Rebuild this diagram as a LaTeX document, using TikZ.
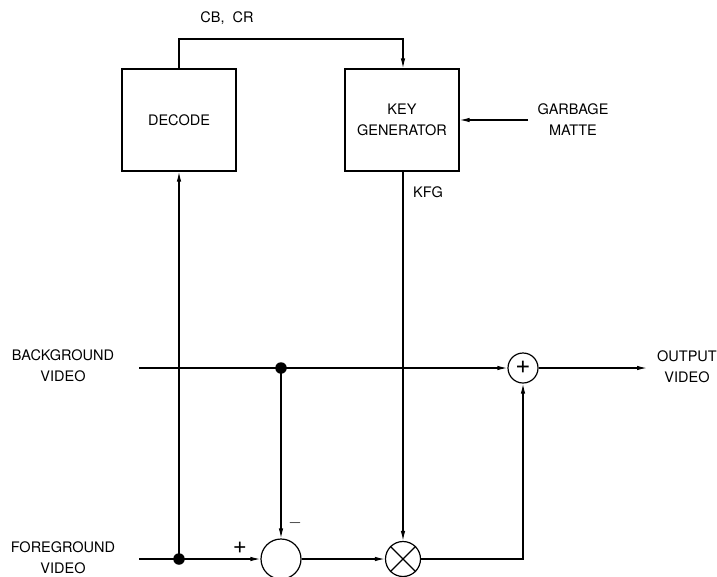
\documentclass[tikz,border=0pt]{standalone}
\usepackage{fontspec}
\setmainfont{TeX Gyre Heros}
\usetikzlibrary{arrows.meta}
\begin{document}
\begin{tikzpicture}[x=1pt,y=-1pt,
  line width=1.2pt,
  every node/.style={font=\fontsize{14.5}{21}\selectfont},
  blk/.style={draw,minimum width=114pt,minimum height=102pt,inner sep=0pt,align=center},
  lbl/.style={align=center,inner sep=0pt},
  arr/.style={-{Latex[length=10pt,width=4.5pt]}},
  dot/.style={circle,fill,inner sep=0pt,minimum size=11.5pt}]
\useasboundingbox (0,0) rectangle (717,576);
\node[blk] (dec) at (179,120) {DECODE};
\node[blk] (key) at (402,120) {KEY\\GENERATOR};
\node[lbl] (cbcr) at (227,18) {CB,\ \ CR};
\node[lbl] (kfg) at (428,192) {KFG};
\node[lbl] (gm) at (573,120) {GARBAGE\\MATTE};
\node[lbl] (bg) at (63,366) {BACKGROUND\\VIDEO};
\node[lbl] (fg) at (63,558) {FOREGROUND\\VIDEO};
\node[lbl] (out) at (687,367) {OUTPUT\\VIDEO};
\coordinate (bgin) at (139,368);
\coordinate (fgin) at (139,559);
\coordinate (gmin) at (528,120);
\coordinate (outend) at (647,368);
\node[dot] (d1) at (281,368) {};
\node[dot] (d2) at (179,559) {};
\node[draw,circle,minimum size=40pt,inner sep=0pt] (sub) at (281,559) {};
\node[draw,circle,minimum size=35pt,inner sep=0pt] (mul) at (403,559) {};
\draw (mul.north west) -- (mul.south east) (mul.north east) -- (mul.south west);
\node[draw,circle,minimum size=30pt,inner sep=0pt] (add) at (523,368) {};
\node[inner sep=0pt] (addsym) at (523,367.5) {\fontsize{26}{26}\selectfont +};
\node[lbl] (plus) at (240,548) {\fontsize{24}{24}\selectfont +};
\node[lbl] (minus) at (295,523) {\fontsize{16}{16}\selectfont $-$};
% connectors
\draw[arr] (dec.north -| 179,0) |- (403,39) -- (key.north -| 403,0);
\draw[arr] (gmin) -- (key.east |- gmin);
\draw[arr] (key.south -| 403,0) -- (mul.north);
\draw (bgin) -- (d1.center);
\draw[arr] (d1.center) -- (add.west);
\draw[arr] (add.east) -- (outend);
\draw[arr] (d1.center) -- (sub.north);
\draw (fgin) -- (d2.center);
\draw[arr] (d2.center) -- (sub.west);
\draw[arr] (d2.center) -- (dec.south);
\draw[arr] (sub.east) -- (mul.west);
\draw[arr] (mul.east) -| (add.south);
\end{tikzpicture}
\end{document}
